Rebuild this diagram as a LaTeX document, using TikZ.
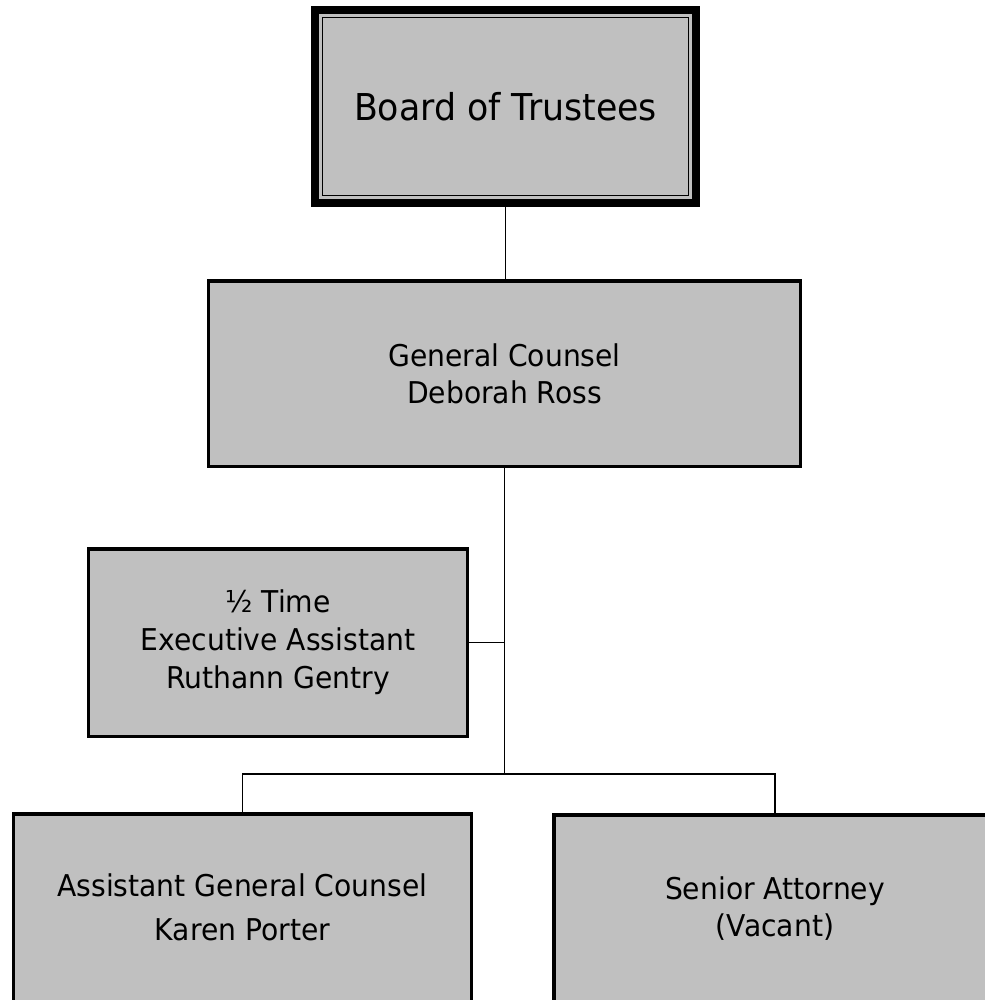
\documentclass[tikz,border=0pt]{standalone}
\usepackage{fontspec}
\setmainfont{DejaVu Sans}[FakeStretch=0.94]
\usetikzlibrary{calc}
\definecolor{boxgray}{RGB}{192,192,192}
\begin{document}
\begin{tikzpicture}[x=1bp,y=-1bp,
  box/.style={draw=black, fill=boxgray, line width=3.5bp, outer sep=0pt, inner sep=0pt, align=center, font=\fontsize{30bp}{37bp}\selectfont},
  link/.style={draw=black, line width=1.3bp}]
\useasboundingbox (0,0) rectangle (985,1000);
\clip (0,0) rectangle (985,1000);
% Board of Trustees
\node[box, line width=8bp, minimum width=381bp, minimum height=193bp, font=\fontsize{37bp}{44bp}\selectfont] (board) at (505.5,106.5) {Board of Trustees};
\draw[line width=1.3bp] ($(board.north west)+(7.5,7.5)$) rectangle ($(board.south east)+(-7.5,-7.5)$);
% General Counsel
\node[box, minimum width=591.5bp, minimum height=185.5bp] (gc) at (504.5,373.5) {General Counsel\\Deborah Ross};
% Executive Assistant
\node[box, minimum width=378.5bp, minimum height=187.5bp, font=\fontsize{30bp}{38bp}\selectfont] (ea) at (278,642.5) {½ Time\\Executive Assistant\\Ruthann Gentry};
% Bottom boxes
\node[box, minimum width=457.5bp, minimum height=187.5bp] (agc) at (242.5,907.5) {Assistant General Counsel\\[7bp]Karen Porter};
\node[box, minimum width=442.5bp, minimum height=187.5bp] (sa) at (775,908.5) {Senior Attorney\\(Vacant)};
% connectors
\coordinate (bus) at (504.5,774);
\draw[link] (board.south) -- (board.south |- gc.north);
\draw[link] (gc.south) -- (bus);
\draw[link] (ea.east) -- (ea.east -| gc.south);
\draw[link] (agc.north) |- (bus) -| (sa.north);
\end{tikzpicture}
\end{document}
